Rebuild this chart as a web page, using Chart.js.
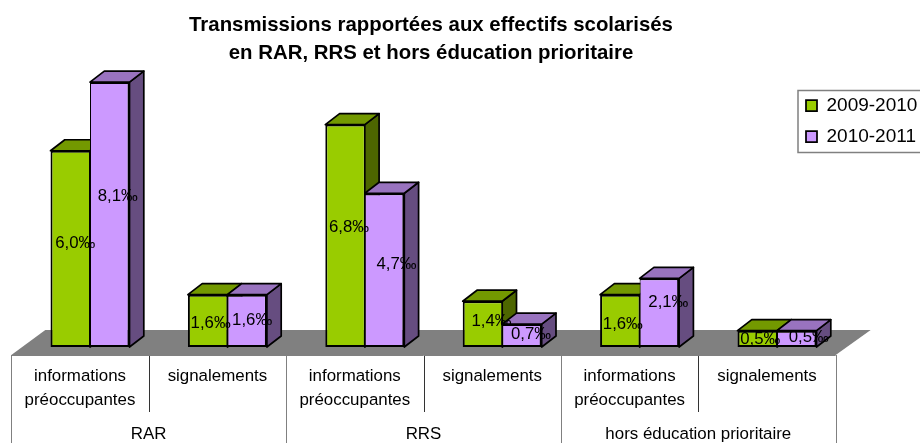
<!DOCTYPE html>
<html>
<head>
<meta charset="utf-8">
<style>html,body{margin:0;padding:0;background:#fff}#w{width:920px;height:443px}</style>
<script src="https://cdn.jsdelivr.net/npm/chart.js@4"></script>
</head>
<body>
<div id="w"><canvas id="c" width="920" height="443"></canvas></div>
<script>
const categories = [['informations','préoccupantes'],['signalements'],['informations','préoccupantes'],['signalements'],['informations','préoccupantes'],['signalements']];
const groups = ['RAR','RRS','hors éducation prioritaire'];
const series2009 = [6.0,1.6,6.8,1.4,1.6,0.5];
const series2010 = [8.1,1.6,4.7,0.7,2.1,0.5];
const seriesNames = ['2009-2010','2010-2011'];
const titleLines = ['Transmissions rapportées aux effectifs scolarisés','en RAR, RRS et hors éducation prioritaire'];

const FONT = '"Liberation Sans", Arial, sans-serif';
const DX = 14.3, DY = 11;
const faces = [{top:'#739900',side:'#4d6600'},{top:'#9973bf',side:'#664d80'}];
// hand placement of each value label relative to its bar's front-face centre (as in the reference)
const nudges = [
  [[5,-6],[3,3],[4,-8],[9,-3],[3,4],[3,1]],
  [[8,-18],[5,0],[12,-6],[9,-1],[9,-10],[12,-1]]
];

function poly(ctx, pts, fill){
  ctx.beginPath();
  pts.forEach((p,i)=> i?ctx.lineTo(p[0],p[1]):ctx.moveTo(p[0],p[1]));
  ctx.closePath();
  if(fill){ctx.fillStyle=fill;ctx.fill();}
}
const threeD = {
  id:'threeD',
  beforeDraw(chart){
    const l = chart.legend;
    l.left=794; l.top=84; l.width=130; l.height=200; l.right=924; l.bottom=284;
    l.adjustHitBoxes();
    const t = chart.titleBlock;
    t.left=0; t.right=862; t.width=862;
  },
  beforeDatasetsDraw(chart){
    const {ctx} = chart, xs = chart.scales.x, ys = chart.scales.y;
    const y0 = ys.getPixelForValue(0);
    // floor
    const fl = xs.left-10, fr = xs.right-10, ff = y0+8, fb = y0-17;
    ctx.save();
    poly(ctx,[[fl,ff],[fr,ff],[fr+35,fb],[fl+34,fb]],'#808080');
    // table lines
    const step = (xs.right-xs.left)/categories.length;
    ctx.lineWidth=1;
    for(let i=0;i<=6;i++){
      const x = Math.round(fl+i*step)+0.5;
      ctx.strokeStyle = i%2? '#333333':'#808080';
      ctx.beginPath();ctx.moveTo(x,ff);ctx.lineTo(x,i%2?412:443);ctx.stroke();
    }
    ctx.strokeStyle='#808080';
    ctx.beginPath();ctx.moveTo(fl,ff+0.5);ctx.lineTo(fr,ff+0.5);ctx.stroke();
    // top and side faces
    ctx.strokeStyle='#000';ctx.lineWidth=1.7;ctx.lineJoin='round';
    chart.getSortedVisibleDatasetMetas().forEach((meta,di)=>{
      meta.data.forEach(b=>{
        const L=b.x-b.width/2,R=b.x+b.width/2,T=b.y,B=b.base;
        poly(ctx,[[R,T],[R+DX,T-DY],[R+DX,B-DY],[R,B]],faces[di].side);ctx.stroke();
        poly(ctx,[[L,T],[L+DX,T-DY],[R+DX,T-DY],[R,T]],faces[di].top);ctx.stroke();
      });
    });
    ctx.restore();
  },
  afterDatasetsDraw(chart){
    const {ctx} = chart;
    ctx.save();
    ctx.fillStyle='#000';
    ctx.font='16.8px '+FONT;
    ctx.textAlign='center';ctx.textBaseline='middle';
    chart.getSortedVisibleDatasetMetas().forEach((meta,di)=>{
      const vals = chart.data.datasets[di].data;
      meta.data.forEach((b,i)=>{
        const t = vals[i].toFixed(1).replace('.',',')+'‰';
        ctx.fillText(t,b.x+nudges[di][i][0],(b.y+b.base)/2+nudges[di][i][1]);
      });
    });
    ctx.restore();
  },
  afterDraw(chart){
    const {ctx}=chart;
    ctx.save();
    ctx.strokeStyle='#808080';ctx.lineWidth=1.5;
    ctx.strokeRect(798,90.5,130,62);
    ctx.restore();
  }
};

new Chart(document.getElementById('c'),{
  type:'bar',
  data:{
    labels:categories,
    datasets:[
      {label:seriesNames[0],data:series2009,backgroundColor:'#99cc00',borderColor:'#000',borderSkipped:false,borderWidth:{top:2,left:2,bottom:2,right:1},xAxisID:'x',yAxisID:'y'},
      {label:seriesNames[1],data:series2010,backgroundColor:'#cc99ff',borderColor:'#000',borderSkipped:false,borderWidth:{top:2,left:1,bottom:2,right:2},xAxisID:'x',yAxisID:'y'}
    ]
  },
  plugins:[threeD],
  options:{
    responsive:false,animation:false,
    layout:{padding:{left:21.3,right:74.3,top:0,bottom:0}},
    categoryPercentage:0.575,barPercentage:1,
    plugins:{
      tooltip:{enabled:false},
      title:{display:true,text:titleLines,color:'#000',
        font:{family:FONT,size:20.4,weight:'bold',lineHeight:28/20.4},
        padding:{top:11,bottom:2}},
      legend:{position:'chartArea',align:'start',
        labels:{font:{family:FONT,size:19},color:'#000',boxWidth:11,boxHeight:11,padding:12}}
    },
    scales:{
      x:{type:'category',position:'bottom',offset:true,weight:1,
        grid:{display:false,drawTicks:false},border:{display:false},
        afterFit(s){s.height=65;},
        ticks:{autoSkip:false,maxRotation:0,minRotation:0,labelOffset:-10,padding:17,color:'#000',
          font:{family:FONT,size:16.9,lineHeight:24/16.9}}},
      x2:{type:'category',position:'bottom',offset:true,weight:2,labels:groups,
        grid:{display:false,drawTicks:false},border:{display:false},
        afterFit(s){s.height=31;},
        ticks:{autoSkip:false,maxRotation:0,minRotation:0,labelOffset:-10,padding:12,color:'#000',
          font:{family:FONT,size:16.9}}},
      y:{type:'linear',display:false,min:0,max:8.5}
    }
  }
});
</script>
</body>
</html>
